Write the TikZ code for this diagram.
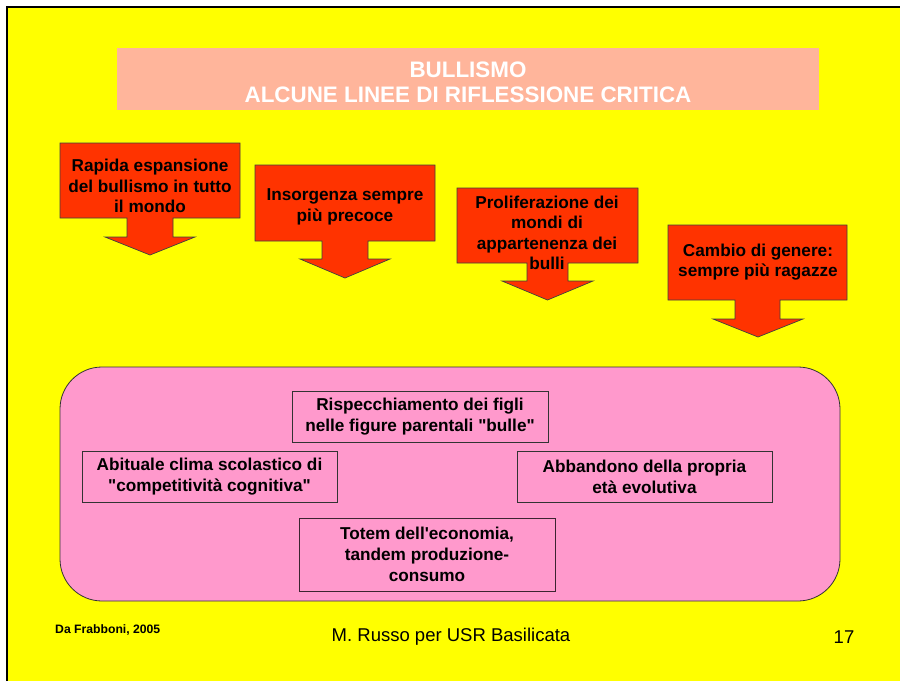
\documentclass[tikz,border=0pt]{standalone}
\usepackage{fontspec}
\setmainfont{Liberation Sans}
\definecolor{slideyellow}{HTML}{FFFF00}
\definecolor{titlesalmon}{HTML}{FFB59B}
\definecolor{calloutred}{HTML}{FF3300}
\definecolor{boxpink}{HTML}{FF99CC}
\begin{document}
\begin{tikzpicture}[x=1pt,y=-1pt]
		\begin{scope}[scale=1]
		
		\tikzstyle{mycallout}=[fill=calloutred,
		draw=black!75,
		line width=0.7pt
		]
		\tikzstyle{mytext}=[align=center,
		inner sep=0pt,
		font=\fontsize{17.2}{20.5}\selectfont\bfseries
		]
		\tikzstyle{mybox}=[rectangle,
		draw=black!80,
		fill=boxpink,
		line width=0.7pt,
		align=center,
		inner sep=0pt,
		minimum height=51,
		minimum width=255,
		font=\fontsize{17.2}{21}\selectfont\bfseries
		]
		
		\useasboundingbox (0,0) rectangle (900,681);
		\fill[white] (0,0) rectangle (900,681);
		\fill[slideyellow] (6.5,6.5) rectangle (900,681);
		\draw[line width=2pt] (6.5,681) -- (6.5,6.5) -- (900,6.5);
		
		\coordinate (pt) at (468,82.5);
		
		\coordinate (pc1) at (150,186);
		\coordinate (pc2) at (345,207);
		\coordinate (pc3) at (547,233);
		\coordinate (pc4) at (758,262);
		
		\coordinate (pb1) at (420,416.5);
		\coordinate (pb2) at (209.5,476.5);
		\coordinate (pb3) at (644.5,476.5);
		\coordinate (pb4) at (427,554.5);
		
		% title
		\fill[titlesalmon] (117,48) rectangle (819,110);
		\node[align=center, text=white, inner sep=0pt,
		font=\fontsize{22.4}{25.5}\selectfont\bfseries] (title) at (pt)
		{BULLISMO\\ALCUNE LINEE DI RIFLESSIONE CRITICA};
		
		% callouts
		\draw[mycallout] (60,143) -- (240,143) -- (240,218) -- (173,218) -- (173,237)
		-- (195,237) -- (150,255) -- (105,237) -- (127,237) -- (127,218) -- (60,218) -- cycle;
		\draw[mycallout] (255,165) -- (435,165) -- (435,241) -- (368,241) -- (368,259)
		-- (390,259) -- (345,278) -- (300,259) -- (322,259) -- (322,241) -- (255,241) -- cycle;
		\draw[mycallout] (457,188) -- (638,188) -- (638,263) -- (568,263) -- (568,281)
		-- (593,281) -- (547.5,300) -- (502,281) -- (527,281) -- (527,263) -- (457,263) -- cycle;
		\draw[mycallout] (668,225) -- (847,225) -- (847,300) -- (780,300) -- (780,319)
		-- (803,319) -- (758,337) -- (713,319) -- (735,319) -- (735,300) -- (668,300) -- cycle;
		
		\node[mytext] (c1) at (pc1) {Rapida espansione\\del bullismo in tutto\\il mondo};
		\node[mytext] (c2) at (pc2) {Insorgenza sempre\\più precoce};
		\node[mytext] (c3) at (pc3) {Proliferazione dei\\mondi di\\appartenenza dei\\bulli};
		\node[mytext] (c4) at (pc4) {Cambio di genere:\\sempre più ragazze};
		
		% pink panel
		\draw[fill=boxpink, draw=black!80, line width=0.8pt, rounded corners=42pt]
		(60,367) rectangle (840,601);
		
		\node[mybox, minimum width=256] (b1) at (pb1)
		{Rispecchiamento dei figli\\nelle figure parentali \textquotedbl bulle\textquotedbl};
		\node[mybox] (b2) at (pb2)
		{Abituale clima scolastico di\\\textquotedbl competitività cognitiva\textquotedbl};
		\node[mybox] (b3) at (pb3) {Abbandono della propria\\età evolutiva};
		\node[mybox, minimum width=256, minimum height=73, draw=black!60!boxpink!60!black] (b4) at (pb4)
		{Totem dell\textquotesingle economia,\\tandem produzione-\\consumo};
		
		% footer
		\node[anchor=west, inner sep=0pt, font=\fontsize{12.2}{14}\selectfont\bfseries]
		(src) at (55,630) {Da Frabboni, 2005};
		\node[inner sep=0pt, font=\fontsize{18.5}{21}\selectfont] (auth) at (451,637)
		{M. Russo per USR Basilicata};
		\node[inner sep=0pt, font=\fontsize{18.5}{21}\selectfont] (num) at (844,637) {17};
		
		\end{scope}
\end{tikzpicture}
\end{document}
